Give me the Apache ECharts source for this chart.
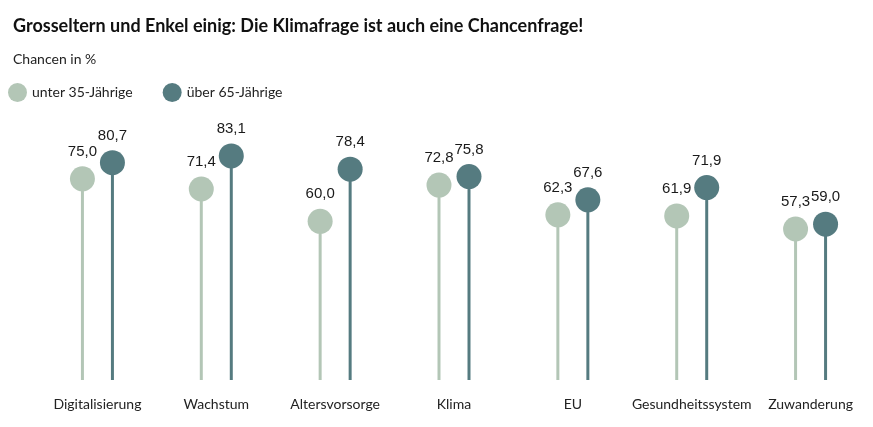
<!DOCTYPE html>
<html><head><meta charset="utf-8">
<script src="https://cdn.jsdelivr.net/npm/echarts@6/dist/echarts.min.js"></script>
<style>html,body{margin:0;padding:0;background:#fff}#c{width:873px;height:427px}</style>
</head><body><div id="c"></div>
<script>
const categories = ['Digitalisierung','Wachstum','Altersvorsorge','Klima','EU','Gesundheitssystem','Zuwanderung'];
const young = [75.0, 71.4, 60.0, 72.8, 62.3, 61.9, 57.3];
const old = [80.7, 83.1, 78.4, 75.8, 67.6, 71.9, 59.0];
const seriesNames = ['unter 35-Jährige', 'über 65-Jährige'];
const colors = ['#b3c6b6', '#557b80'];
const yMin = 4, yMax = 100;

function makeRender(offset, color) {
  return function (params, api) {
    const v = api.value(1);
    const top = api.coord([api.value(0), v]);
    const base = api.coord([api.value(0), yMin]);
    const x = top[0] + offset;
    return {
      type: 'group',
      children: [
        { type: 'line', shape: { x1: x, y1: base[1], x2: x, y2: top[1] }, style: { stroke: color, lineWidth: 3 } },
        { type: 'circle', shape: { cx: x, cy: top[1], r: 12.5 }, style: { fill: color } },
        { type: 'text', style: { x: x, y: top[1] - 27, text: v.toFixed(1).replace('.', ','), fill: '#1a1a1a', font: '15px "Liberation Sans", Arial, sans-serif', align: 'center', verticalAlign: 'middle' } }
      ]
    };
  };
}

const chart = echarts.init(document.getElementById('c'));
chart.setOption({
  backgroundColor: '#fff',
  animation: false,
  title: [
    { text: 'Grosseltern und Enkel einig: Die Klimafrage ist auch eine Chancenfrage!', left: 8, top: 12, textStyle: { fontFamily: 'Lato', fontWeight: 'bold', fontSize: 18, color: '#111' } },
    { text: 'Chancen in %', left: 8, top: 47, textStyle: { fontFamily: 'Lato', fontWeight: 'normal', fontSize: 14, color: '#222' } }
  ],
  legend: {
    left: 3, top: 78, icon: 'circle', itemWidth: 19, itemHeight: 19, itemGap: 30,
    textStyle: { fontFamily: 'Lato', fontSize: 14, color: '#222' },
    data: seriesNames
  },
  grid: { left: 38, right: 3, top: 108, bottom: 47 },
  xAxis: {
    type: 'category', data: categories,
    axisLine: { show: false }, axisTick: { show: false },
    axisLabel: { margin: 17, fontFamily: 'Lato', fontSize: 14, color: '#222', interval: 0 }
  },
  yAxis: { type: 'value', min: yMin, max: yMax, show: false, splitLine: { show: false } },
  series: [
    { name: seriesNames[0], type: 'custom', itemStyle: { color: colors[0] }, renderItem: makeRender(-15, colors[0]), data: young.map((v, i) => [i, v]) },
    { name: seriesNames[1], type: 'custom', itemStyle: { color: colors[1] }, renderItem: makeRender(15, colors[1]), data: old.map((v, i) => [i, v]) }
  ]
});
</script></body></html>
